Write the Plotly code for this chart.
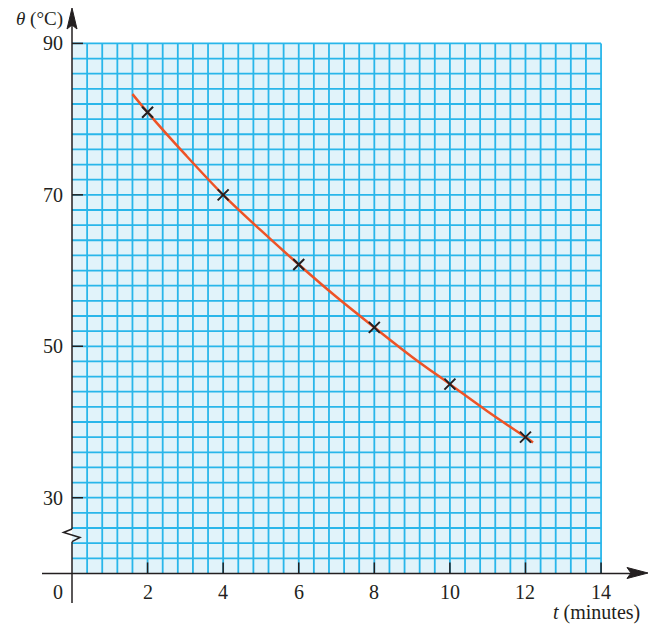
import plotly.graph_objects as go

# ---- data ----
t_points = [2, 4, 6, 8, 10, 12]
theta_points = [80.9, 70.0, 60.8, 52.5, 45.0, 38.0]

curve_t = [1.6, 2, 3, 4, 5, 6, 7, 8, 9, 10, 11, 12, 12.2]
curve_theta = [83.3, 80.9, 75.3, 70.0, 65.3, 60.8, 56.5, 52.5, 48.6, 45.0, 41.4, 38.0, 37.3]

x_tick_vals = [2, 4, 6, 8, 10, 12, 14]
y_tick_vals = [30, 50, 70, 90]

# ---- geometry (screen px -> data); page body has an 8px margin ----
OFF = 8
PX_X = 37.79   # px per minute
PX_Y = 7.572   # px per degree
X0_PX = 72.0   # screen x of t = 0
Y90_PX = 43.4  # screen y of theta = 90
W, H = 648, 617
x_range = [(OFF - X0_PX) / PX_X, (OFF + W - X0_PX) / PX_X]
y_range = [90 - (OFF + H - Y90_PX) / PX_Y, 90 + (Y90_PX - OFF) / PX_Y]

def dx(px):
    return px / PX_X

def dy(px):
    return px / PX_Y

def P(px, py):
    return (px - X0_PX) / PX_X, 90 - (py - Y90_PX) / PX_Y

GRID_COL = "#29b6ea"
FILL_COL = "#e1f3fa"
AXIS_COL = "#231f20"
CURVE_COL = "#ee5326"
FONT = "Liberation Serif"

shapes = []
shapes.append(dict(type="rect", x0=0, x1=14, y0=20, y1=90, fillcolor=FILL_COL,
                   line=dict(width=0), layer="below"))
n_x = 35
for i in range(1, n_x + 1):
    xv = i * 14 / n_x
    shapes.append(dict(type="line", x0=xv, x1=xv, y0=20, y1=90,
                       line=dict(color=GRID_COL, width=1.8), layer="below"))
for i in range(0, 35):
    yv = 20 + i * 2 + 2
    shapes.append(dict(type="line", x0=0, x1=14, y0=yv, y1=yv,
                       line=dict(color=GRID_COL, width=1.8), layer="below"))

# x axis
shapes.append(dict(type="line", x0=P(42, 0)[0], x1=P(640, 0)[0], y0=20, y1=20,
                   line=dict(color=AXIS_COL, width=1.5)))
# y axis with break
shapes.append(dict(type="line", x0=0, x1=0, y0=P(0, 22)[1], y1=P(0, 529)[1],
                   line=dict(color=AXIS_COL, width=1.5)))
shapes.append(dict(type="line", x0=0, x1=0, y0=P(0, 541.7)[1], y1=P(0, 603)[1],
                   line=dict(color=AXIS_COL, width=1.5)))
pts = [P(72, 529), P(63.5, 532.5), P(80, 537.5), P(72, 541.7)]
shapes.append(dict(type="path", path="M " + " L ".join(f"{a},{b}" for a, b in pts),
                   line=dict(color=AXIS_COL, width=1.5)))

# arrowheads
ya = [P(72, 8), P(77, 29), P(72, 25), P(67, 29)]
shapes.append(dict(type="path", path="M " + " L ".join(f"{a},{b}" for a, b in ya) + " Z",
                   fillcolor=AXIS_COL, line=dict(color=AXIS_COL, width=1)))
xa = [P(648, 573), P(627, 567.5), P(631, 573), P(627, 578.5)]
shapes.append(dict(type="path", path="M " + " L ".join(f"{a},{b}" for a, b in xa) + " Z",
                   fillcolor=AXIS_COL, line=dict(color=AXIS_COL, width=1)))

# ticks
for v in y_tick_vals:
    shapes.append(dict(type="line", x0=0, x1=dx(11), y0=v, y1=v,
                       line=dict(color=AXIS_COL, width=1.5)))
for v in x_tick_vals:
    shapes.append(dict(type="line", x0=v, x1=v, y0=20, y1=20 + dy(11),
                       line=dict(color=AXIS_COL, width=1.5)))

annotations = []
for v in y_tick_vals:
    annotations.append(dict(x=0, y=v, xref="x", yref="y", text=str(v), showarrow=False,
                            xanchor="right", yanchor="middle", xshift=-7,
                            font=dict(family=FONT, size=20, color=AXIS_COL)))
for v in x_tick_vals:
    annotations.append(dict(x=v, y=20, xref="x", yref="y", text=str(v), showarrow=False,
                            xanchor="center", yanchor="middle", yshift=-19,
                            font=dict(family=FONT, size=20, color=AXIS_COL)))
annotations.append(dict(x=0, y=20, xref="x", yref="y", text="0", showarrow=False,
                        xanchor="center", yanchor="middle", xshift=-14, yshift=-19,
                        font=dict(family=FONT, size=20, color=AXIS_COL)))
annotations.append(dict(x=0, y=90, xref="x", yref="y", text="<i>θ</i> (°C)", showarrow=False,
                        xanchor="right", yanchor="middle", xshift=-7, yshift=24,
                        font=dict(family=FONT, size=19, color=AXIS_COL)))
annotations.append(dict(x=14, y=20, xref="x", yref="y", text="<i>t</i> (minutes)", showarrow=False,
                        xanchor="center", yanchor="middle", xshift=-5, yshift=-39,
                        font=dict(family=FONT, size=20, color=AXIS_COL)))

fig = go.Figure()
fig.add_trace(go.Scatter(x=curve_t, y=curve_theta, mode="lines",
                         line=dict(color=CURVE_COL, width=2.5, shape="spline", smoothing=1.0),
                         hoverinfo="skip"))
fig.add_trace(go.Scatter(x=t_points, y=theta_points, mode="markers",
                         marker=dict(symbol="x-thin", size=11,
                                     line=dict(color=AXIS_COL, width=2), color=AXIS_COL)))

fig.update_layout(
    width=W, height=H, margin=dict(l=0, r=0, t=0, b=0),
    paper_bgcolor="white", plot_bgcolor="white", showlegend=False,
    xaxis=dict(range=x_range, visible=False, fixedrange=True),
    yaxis=dict(range=y_range, visible=False, fixedrange=True),
    shapes=shapes, annotations=annotations,
)

fig.write_html("out.html")
